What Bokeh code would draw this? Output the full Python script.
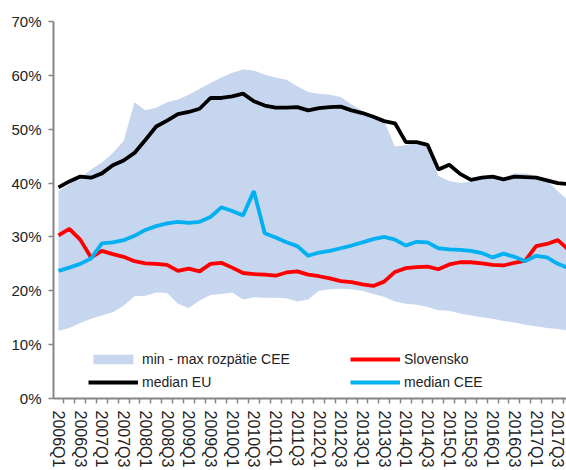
from bokeh.plotting import figure
from bokeh.models import FixedTicker, Legend, LegendItem, PrintfTickFormatter, Range1d
from bokeh.embed import file_html
from bokeh.resources import INLINE

quarters = [f"{y}Q{q}" for y in range(2006, 2018) for q in range(1, 5)]

cee_max = [38.5, 39.8, 41.0, 42.5, 43.8, 45.6, 47.8, 55.0, 53.5, 54.0,
           55.0, 55.5, 56.4, 57.5, 58.6, 59.6, 60.5, 61.1, 60.9, 60.1,
           59.6, 59.2, 58.0, 56.9, 56.6, 56.4, 56.0, 54.6, 53.4, 52.6,
           51.5, 46.8, 47.0, 47.6, 46.8, 41.3, 40.4, 40.0, 40.3, 40.9,
           41.2, 41.0, 41.8, 41.8, 41.3, 40.5, 38.5, 36.8]

cee_min = [12.6, 13.1, 14.0, 14.8, 15.4, 16.0, 17.2, 19.0, 19.1, 19.7,
           19.6, 17.6, 16.8, 18.2, 19.2, 19.4, 19.7, 18.4, 18.8, 18.7,
           18.7, 18.6, 18.0, 18.4, 20.0, 20.3, 20.4, 20.3, 20.0, 19.4,
           18.9, 18.0, 17.6, 17.4, 17.0, 16.4, 16.3, 15.8, 15.4, 15.1,
           14.8, 14.4, 14.1, 13.7, 13.4, 13.1, 12.9, 12.6]

median_eu = [39.2, 40.3, 41.2, 41.0, 41.8, 43.3, 44.2, 45.6, 48.0, 50.5,
             51.6, 52.8, 53.2, 53.8, 55.8, 55.8, 56.1, 56.6, 55.2, 54.4,
             54.0, 54.0, 54.1, 53.5, 53.9, 54.1, 54.2, 53.5, 53.0, 52.3,
             51.5, 51.1, 47.6, 47.6, 47.1, 42.5, 43.4, 41.7, 40.6, 41.0,
             41.2, 40.7, 41.2, 41.1, 41.0, 40.5, 40.0, 39.8]

median_cee = [23.7, 24.3, 25.0, 26.0, 28.8, 29.0, 29.4, 30.2, 31.3, 32.0,
              32.5, 32.8, 32.6, 32.8, 33.7, 35.5, 34.8, 34.0, 38.5, 30.7,
              29.9, 29.0, 28.3, 26.5, 27.1, 27.4, 27.9, 28.4, 29.0, 29.6,
              30.0, 29.5, 28.4, 29.1, 29.0, 27.9, 27.7, 27.6, 27.4, 27.0,
              26.2, 26.9, 26.3, 25.5, 26.5, 26.2, 25.0, 24.2]

slovensko = [30.3, 31.5, 29.5, 26.2, 27.4, 26.8, 26.3, 25.5, 25.1, 25.0,
             24.8, 23.7, 24.1, 23.6, 25.0, 25.2, 24.3, 23.3, 23.1, 23.0,
             22.8, 23.4, 23.6, 23.0, 22.7, 22.3, 21.8, 21.6, 21.2, 20.9,
             21.7, 23.5, 24.2, 24.4, 24.5, 24.0, 24.9, 25.3, 25.3, 25.1,
             24.8, 24.7, 25.2, 25.6, 28.3, 28.7, 29.4, 27.6]

y_ticks = [0, 10, 20, 30, 40, 50, 60, 70]

x = list(range(len(quarters)))

FONT = "Liberation Sans"
GRAY = "#868686"

p = figure(width=566, height=470, output_backend="svg", toolbar_location=None,
           x_range=Range1d(-0.46, 46.8), y_range=Range1d(0, 70),
           min_border_left=53, min_border_right=0, min_border_top=21,
           min_border_bottom=70)
p.outline_line_color = None
p.xgrid.visible = False
p.ygrid.visible = False
p.background_fill_color = "white"

band = p.varea(x=x, y1=cee_min, y2=cee_max, fill_color="#c6d6ef")
eu = p.line(x, median_eu, line_color="black", line_width=3.8)
sk = p.line(x, slovensko, line_color="#ff0000", line_width=3.8)
cee = p.line(x, median_cee, line_color="#00b0f0", line_width=3.8)

# y axis
yax = p.yaxis[0]
yax.ticker = FixedTicker(ticks=y_ticks)
yax.formatter = PrintfTickFormatter(format="%d%%")
yax.axis_line_color = GRAY
yax.axis_line_width = 2
yax.major_tick_line_color = GRAY
yax.major_tick_line_width = 1.5
yax.major_tick_out = 5
yax.major_tick_in = 0
yax.minor_tick_line_color = None
yax.major_label_standoff = 7
yax.major_label_text_font = FONT
yax.major_label_text_font_size = "15px"
yax.major_label_text_color = "#222222"

# x axis
xax = p.xaxis[0]
xax.ticker = FixedTicker(ticks=[i for i in x if i % 2 == 0],
                         minor_ticks=[i - 0.5 for i in range(len(x) + 1)])
xax.major_label_overrides = {i: quarters[i] for i in x if i % 2 == 0}
xax.major_label_orientation = "vertical"
xax.axis_line_color = GRAY
xax.axis_line_width = 2
xax.major_tick_out = 0
xax.major_tick_in = 0
xax.minor_tick_out = 5
xax.minor_tick_in = 0
xax.minor_tick_line_color = GRAY
xax.minor_tick_line_width = 1.5
xax.major_label_standoff = 7
xax.major_label_text_font = FONT
xax.major_label_text_font_size = "16px"
xax.major_label_text_color = "#222222"


def make_legend(items, loc):
    leg = Legend(items=items, location=loc, orientation="vertical",
                 background_fill_alpha=0, border_line_color=None,
                 padding=0, margin=0, spacing=7,
                 glyph_width=50, glyph_height=12, label_height=12,
                 label_standoff=4, label_text_font=FONT,
                 label_text_font_size="14px", label_text_color="#222222")
    return leg


leg1 = make_legend([LegendItem(label="min - max rozpätie CEE", renderers=[band]),
                    LegendItem(label="median EU", renderers=[eu])], (35, 8))
leg2 = make_legend([LegendItem(label="Slovensko", renderers=[sk]),
                    LegendItem(label="median CEE", renderers=[cee])], (297, 8))
p.add_layout(leg1)
p.add_layout(leg2)

open("out.html", "w").write(file_html(p, INLINE))
